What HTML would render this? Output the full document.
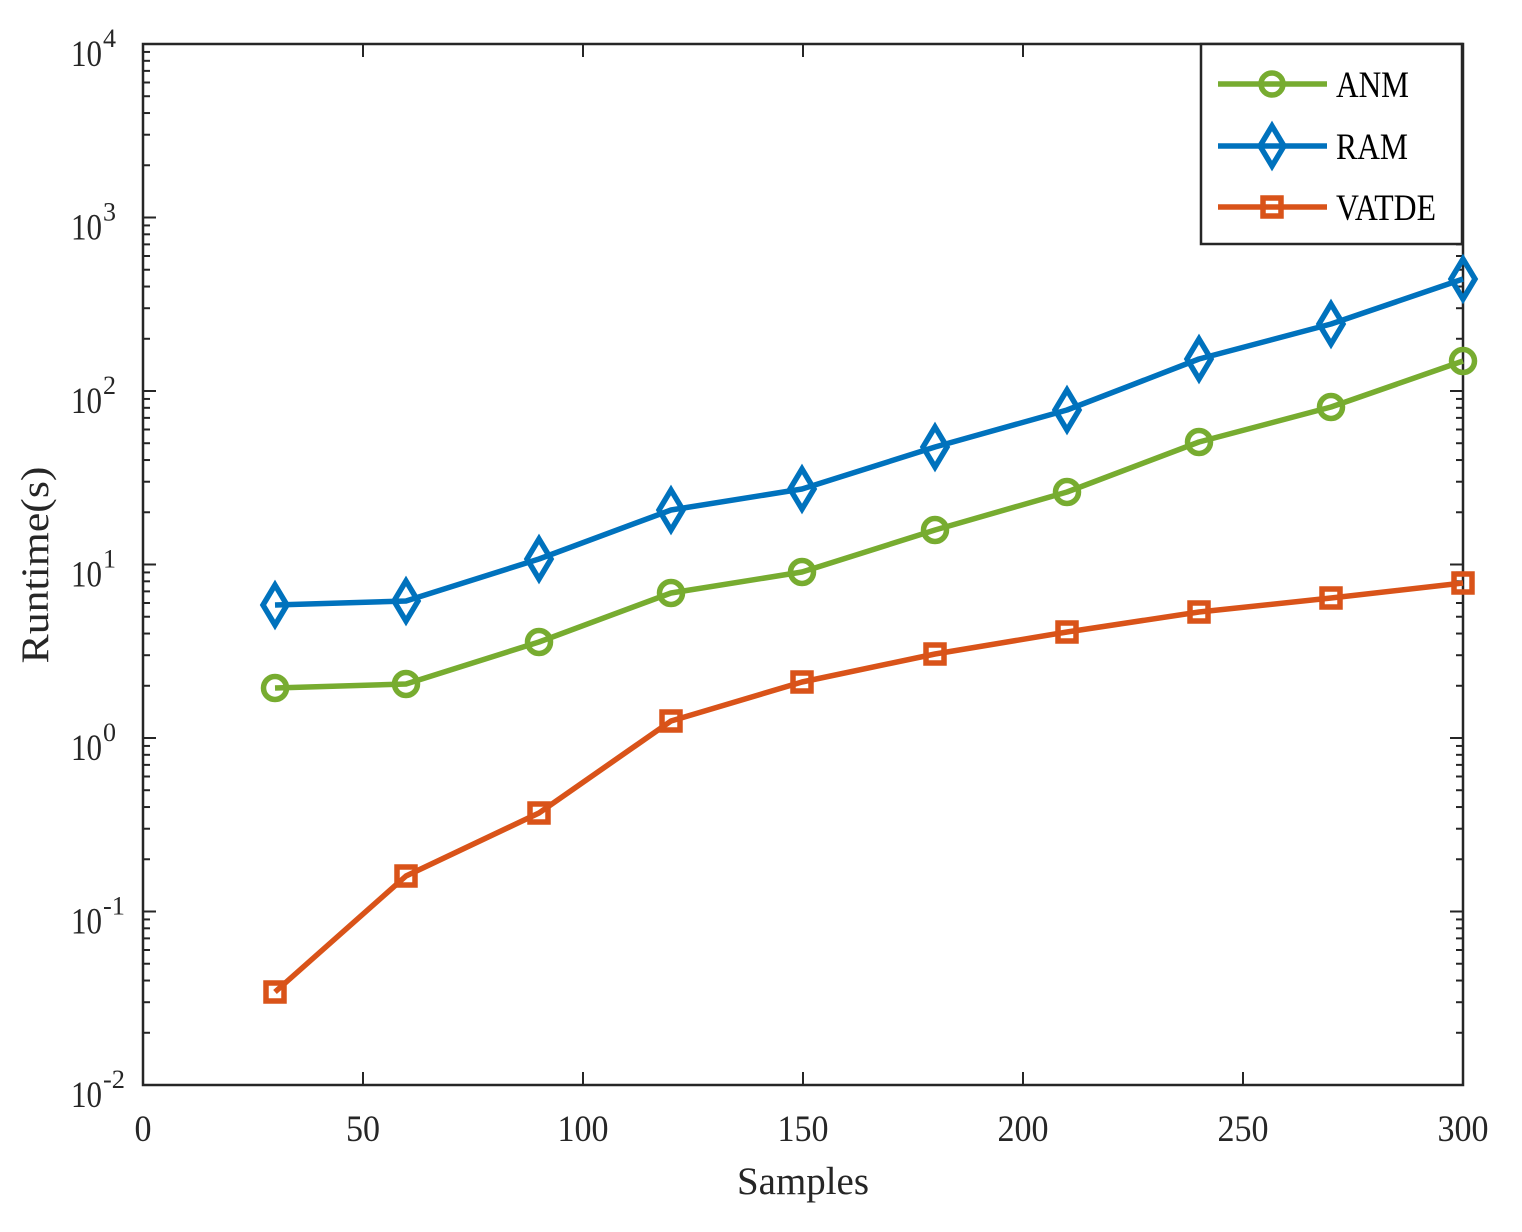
<!DOCTYPE html>
<html><head><style>body{margin:0;background:#fff}</style></head><body>
<svg width="1522" height="1227" xmlns="http://www.w3.org/2000/svg" font-family="Liberation Serif, serif">
<rect width="1522" height="1227" fill="#fff"/>
<g id="ticks" stroke="#262626" stroke-width="2"></g>
<rect x="143" y="44" width="1320" height="1041" fill="none" stroke="#262626" stroke-width="2.5"/>
<g id="labels" font-size="37" fill="#262626"></g>
<text x="737" y="1194" font-size="39" textLength="132" lengthAdjust="spacingAndGlyphs" fill="#262626">Samples</text>
<text transform="translate(48,565) rotate(-90)" font-size="39" text-anchor="middle" textLength="197" lengthAdjust="spacingAndGlyphs" fill="#262626">Runtime(s)</text>
<g id="series" fill="none" stroke-width="5.5"></g>
<rect x="1201" y="44" width="261" height="200" fill="#fff" stroke="#262626" stroke-width="2.5"/>
<g stroke-width="5.5" fill="none">
<line x1="1218" y1="84" x2="1327" y2="84" stroke="#77ac30"/><circle cx="1272" cy="84" r="11" stroke="#77ac30"/>
<line x1="1218" y1="146" x2="1327" y2="146" stroke="#0072bd"/><path d="M1272 126 L1284 146 L1272 166 L1260 146 Z" stroke="#0072bd"/>
<line x1="1218" y1="207" x2="1327" y2="207" stroke="#d95319"/><rect x="1263" y="198" width="18" height="18" stroke="#d95319"/>
</g>
<g font-size="37" fill="#000"><text x="1336" y="97" textLength="73" lengthAdjust="spacingAndGlyphs">ANM</text><text x="1336" y="159" textLength="72" lengthAdjust="spacingAndGlyphs">RAM</text><text x="1336" y="220" textLength="100" lengthAdjust="spacingAndGlyphs">VATDE</text></g>
<script>
const ns="http://www.w3.org/2000/svg";
function el(p,t,a,txt){const e=document.createElementNS(ns,t);for(const k in a)e.setAttribute(k,a[k]);if(txt!==undefined)e.textContent=txt;p.appendChild(e);return e;}
const T=document.getElementById('ticks'),L=document.getElementById('labels'),S=document.getElementById('series');
const X=v=>143+v*4.4, dec=173.5, Y=v=>1085-(Math.log10(v)+2)*dec;
for(let v=0;v<=300;v+=50){const x=X(v);el(T,'line',{x1:x,y1:1085,x2:x,y2:1072});el(T,'line',{x1:x,y1:44,x2:x,y2:57});
const s=String(v),w=17*s.length;el(L,'text',{x:x-w/2,y:1141,textLength:w,lengthAdjust:'spacingAndGlyphs'},s);}
for(let e=-2;e<=4;e++){const y=Y(Math.pow(10,e));el(T,'line',{x1:143,y1:y,x2:156,y2:y});el(T,'line',{x1:1463,y1:y,x2:1450,y2:y});
const s=String(e),sw=s.length>1?22:13;
el(L,'text',{x:71,y:y+22,textLength:31,lengthAdjust:'spacingAndGlyphs'},'10');
el(L,'text',{x:103,y:y+3,'font-size':26,textLength:sw,lengthAdjust:'spacingAndGlyphs'},s);
if(e<4)for(let m=2;m<10;m++){const yy=Y(m*Math.pow(10,e));el(T,'line',{x1:143,y1:yy,x2:150,y2:yy});el(T,'line',{x1:1463,y1:yy,x2:1456,y2:yy});}}
const xs=[275,406,539,671,802,935,1067,1199,1331,1463];
const anm=[688,684,642,593,572,530,492,442,407,361],ram=[605,601,559,510,489,447,410,359,324,279],vat=[992,876,813,721,682,654,632,612,598,583];
function line(ys,c){el(S,'polyline',{points:xs.map((x,i)=>x+','+ys[i]).join(' '),stroke:c,'stroke-linejoin':'round'});}
function marks(){xs.forEach((x,i)=>{el(S,'rect',{x:x-9,y:vat[i]-9,width:18,height:18,stroke:'#d95319'});
el(S,'circle',{cx:x,cy:anm[i],r:11.5,stroke:'#77ac30'});
el(S,'path',{d:`M${x} ${ram[i]-20} L${x+12} ${ram[i]} L${x} ${ram[i]+20} L${x-12} ${ram[i]} Z`,stroke:'#0072bd'});});}
line(anm,'#77ac30');line(ram,'#0072bd');line(vat,'#d95319');marks();
</script>
</svg>
</body></html>
